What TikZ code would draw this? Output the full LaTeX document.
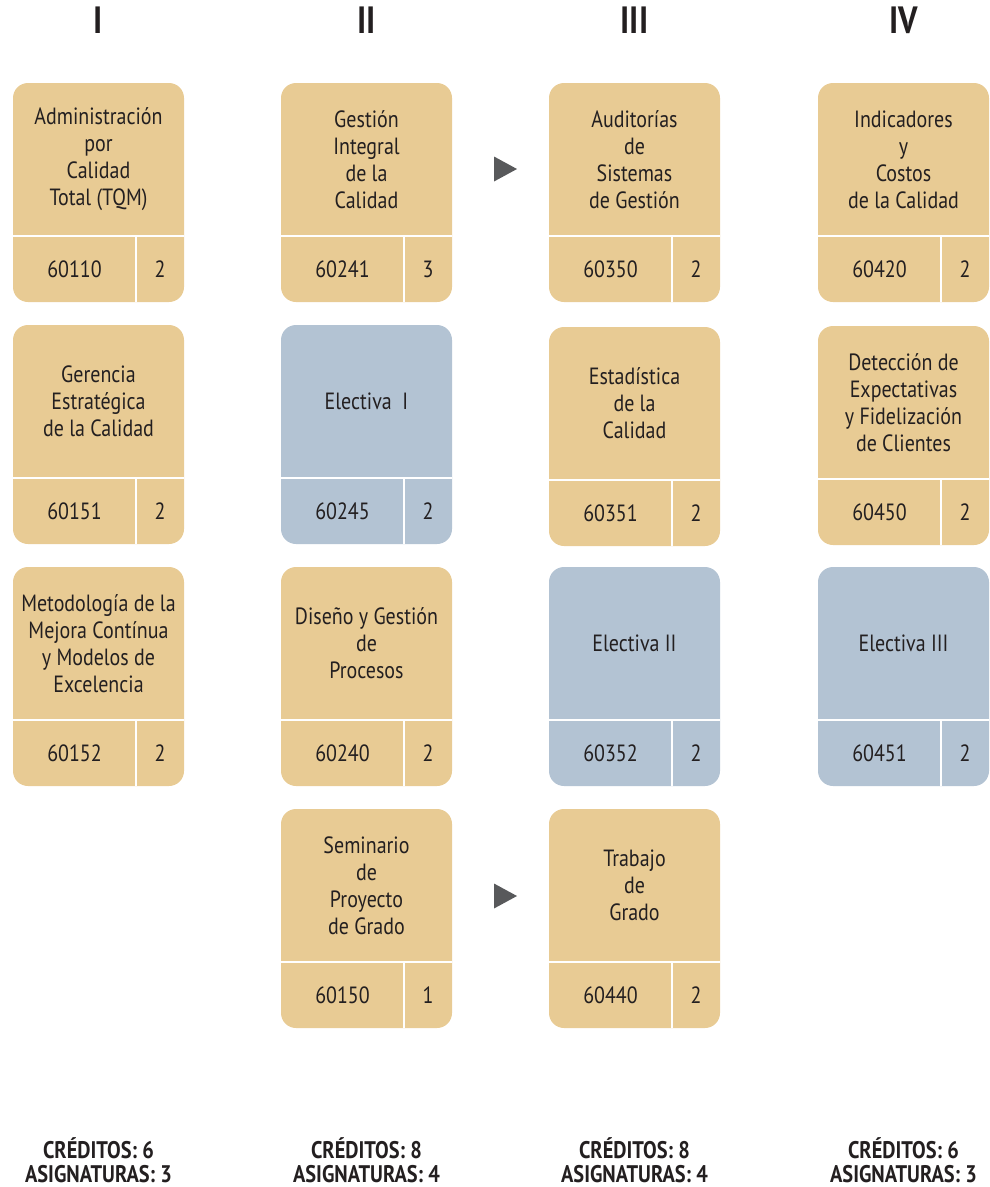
\documentclass[tikz,border=0pt]{standalone}
\usepackage{fontspec}
\setmainfont{PT Sans}[FakeStretch=0.85]
\definecolor{tan}{HTML}{E8CB94}
\definecolor{elec}{HTML}{B3C3D3}
\definecolor{ink}{HTML}{231F20}
\definecolor{arr}{HTML}{58595B}
\tikzset{
  title/.style={text=ink, align=center, font=\fontsize{23.5}{27}\selectfont, inner sep=0pt},
  cell/.style={text=ink, font=\fontsize{23.5}{27}\selectfont, inner sep=0pt},
  sep/.style={white, line width=2.5pt},
  head/.style={text=ink, font=\bfseries\fontsize{38}{40}\selectfont, inner sep=0pt},
  foot/.style={text=ink, align=center, font=\bfseries\fontsize{24}{24}\selectfont, inner sep=0pt},
  tri/.style={fill=arr, draw=none}
}
% \course{name}{x}{y}{colour}{title}{code}{credits}
\newcommand\course[7]{%
  \fill[#4, rounded corners=15pt] (#2,-#3) rectangle ++(171,-219);
  \coordinate (#1) at (#2+85.5,-#3-109.5);
  \draw[sep] (#2,-#3-153) -- ++(171,0);
  \draw[sep] (#2+123,-#3-153) -- ++(0,-66);
  \node[title] (#1t) at (#2+85.5,-#3-76.5) {#5};
  \node[cell] (#1c) at (#2+61.5,-#3-186) {#6};
  \node[cell] (#1k) at (#2+147,-#3-186) {#7};
}
\begin{document}
\begin{tikzpicture}[x=1pt,y=1pt]
\useasboundingbox (0,0) rectangle (989,-1187);
\node[head] (h1) at (98.5,-20) {I};
\node[head] (h2) at (366.5,-20) {II};
\node[head] (h3) at (634.5,-20) {III};
\node[head] (h4) at (903.5,-20) {IV};

\course{a1}{13}{83}{tan}{Administración\\por\\Calidad\\Total (TQM)}{60110}{2}
\course{a2}{13}{325}{tan}{Gerencia\\Estratégica\\de la Calidad}{60151}{2}
\course{a3}{13}{567}{tan}{Metodología de la\\Mejora Contínua\\y Modelos de\\Excelencia}{60152}{2}

\course{b1}{281}{83}{tan}{Gestión\\Integral\\de la\\Calidad}{60241}{3}
\course{b2}{281}{325}{elec}{Electiva\ \ I}{60245}{2}
\course{b3}{281}{567}{tan}{Diseño y Gestión\\de\\Procesos}{60240}{2}
\course{b4}{281}{809}{tan}{Seminario\\de\\Proyecto\\de Grado}{60150}{1}

\course{c1}{549}{83}{tan}{Auditorías\\de\\Sistemas\\de Gestión}{60350}{2}
\course{c2}{549}{327}{tan}{Estadística\\de la\\Calidad}{60351}{2}
\course{c3}{549}{567}{elec}{Electiva II}{60352}{2}
\course{c4}{549}{809}{tan}{Trabajo\\de\\Grado}{60440}{2}

\course{d1}{818}{83}{tan}{Indicadores\\y\\Costos\\de la Calidad}{60420}{2}
\course{d2}{818}{326}{tan}{Detección de\\Expectativas\\y Fidelización\\de Clientes}{60450}{2}
\course{d3}{818}{567}{elec}{Electiva III}{60451}{2}

\fill[tri] (494,-156.5) -- (517,-169) -- (494,-181.5) -- cycle;
\fill[tri] (494,-883.5) -- (517,-896) -- (494,-908.5) -- cycle;

\node[foot] (f1) at (98.5,-1160) {CRÉDITOS: 6\\ASIGNATURAS: 3};
\node[foot] (f2) at (366.5,-1160) {CRÉDITOS: 8\\ASIGNATURAS: 4};
\node[foot] (f3) at (634.5,-1160) {CRÉDITOS: 8\\ASIGNATURAS: 4};
\node[foot] (f4) at (903.5,-1160) {CRÉDITOS: 6\\ASIGNATURAS: 3};
\end{tikzpicture}
\end{document}
